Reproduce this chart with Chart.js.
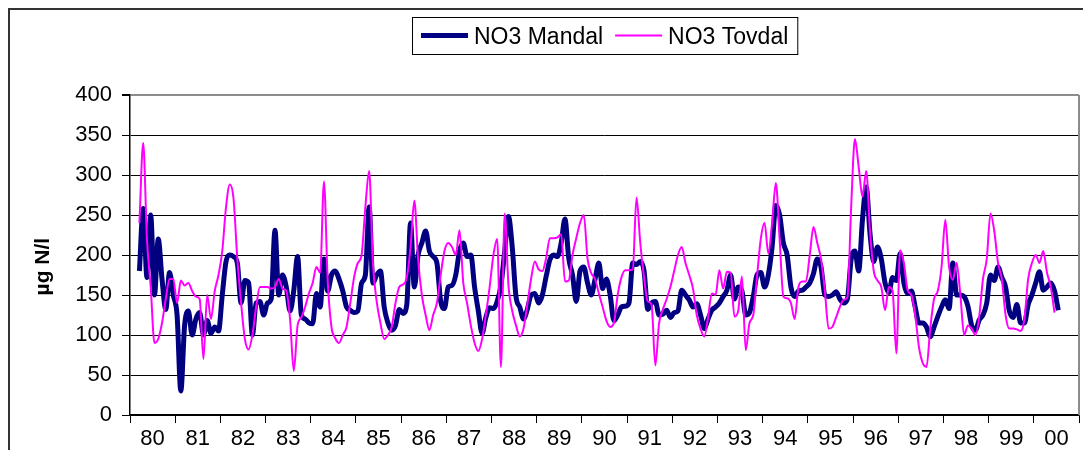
<!DOCTYPE html>
<html>
<head>
<meta charset="utf-8">
<script src="https://cdn.jsdelivr.net/npm/chart.js@4.4.1/dist/chart.umd.min.js"></script>
<style>
  html, body { margin: 0; padding: 0; background: #fff; }
  canvas { display: block; }
</style>
</head>
<body>
<canvas id="no3-chart" width="1083" height="450"></canvas>
<script>
// Year labels on the x axis (one category per year, 12 monthly values each)
var yearLabels = ['80', '81', '82', '83', '84', '85', '86', '87', '88', '89', '90',
                  '91', '92', '93', '94', '95', '96', '97', '98', '99', '00'];

// NO3, µg N/l, monthly - one row per year (jan..dec)
var mandal = [
  null, null, 180, 258, 172, 250, 150, 220, 170, 132, 178, 150,
  125, 30, 112, 130, 100, 120, 128, 100, 118, 102, 110, 105,
  150, 192, 200, 198, 190, 140, 168, 165, 100, 140, 142, 125,
  140, 145, 231, 150, 175, 160, 130, 156, 198, 125, 120, 115,
  114, 152, 135, 195, 155, 175, 180, 170, 155, 135, 131, 128,
  130, 165, 175, 260, 165, 175, 180, 135, 115, 106, 112, 132,
  127, 138, 240, 160, 200, 215, 230, 205, 198, 190, 142, 133,
  160, 162, 175, 205, 215, 198, 200, 160, 130, 102, 122, 134,
  133, 142, 162, 205, 248, 210, 148, 135, 120, 132, 150, 152,
  140, 150, 173, 194, 200, 198, 215, 245, 196, 175, 142, 180,
  185, 165, 150, 170, 190, 158, 170, 150, 118, 125, 135, 136,
  140, 190, 188, 192, 180, 132, 140, 142, 125, 126, 131, 122,
  128, 130, 156, 150, 144, 135, 139, 125, 108, 120, 131, 135,
  140, 148, 156, 175, 145, 160, 155, 125, 128, 148, 175, 178,
  160, 175, 210, 262, 250, 215, 200, 160, 148, 155, 156, 160,
  165, 177, 195, 185, 150, 148, 150, 154, 145, 140, 145, 195,
  205, 180, 244, 285, 227, 192, 210, 195, 165, 153, 172, 168,
  202, 165, 152, 155, 135, 115, 115, 110, 98, 110, 123, 135,
  144, 133, 190, 150, 150, 148, 136, 112, 106, 119, 125, 140,
  175, 168, 185, 172, 160, 130, 122, 138, 115, 115, 138, 150,
  165, 179, 156, 160, 165, 155, 131, null, null, null, null, null
];

var tovdal = [
  null, null, 240, 340, 220, 160, 90, 95, 115, 145, 170, 170,
  140, 168, 162, 165, 155, 148, 145, 70, 150, 120, 155, 175,
  205, 260, 288, 270, 195, 140, 95, 82, 100, 135, 160, 160,
  160, 158, 160, 170, 158, 155, 120, 55, 112, 122, 135, 152,
  165, 185, 178, 292, 168, 110, 96, 90, 100, 110, 140, 172,
  190, 200, 260, 305, 190, 142, 115, 95, 100, 110, 140, 160,
  163, 172, 210, 268, 195, 150, 125, 106, 125, 140, 175, 205,
  215, 210, 200, 231, 165, 140, 112, 90, 80, 95, 125, 160,
  200, 220, 60, 252, 162, 130, 112, 98, 108, 138, 170, 192,
  182, 180, 196, 221, 221, 222, 226, 167, 168, 200, 221, 240,
  250, 195, 177, 170, 152, 135, 118, 110, 115, 150, 172, 181,
  181, 182, 272, 215, 172, 142, 138, 62, 115, 132, 145, 160,
  180, 200, 210, 190, 175, 158, 125, 108, 98, 122, 152, 150,
  181, 158, 179, 178, 123, 130, 173, 81, 115, 125, 173, 220,
  240, 202, 240, 290, 220, 148, 146, 140, 120, 160, 167, 167,
  200, 235, 215, 195, 156, 108, 110, 122, 135, 144, 147, 260,
  345, 310, 273, 305, 230, 180, 168, 160, 131, 160, 155, 77,
  206, 190, 156, 150, 125, 85, 65, 60, 108, 145, 155, 185,
  244, 185, 169, 190, 150, 100, 112, 108, 100, 123, 170, 195,
  252, 230, 190, 170, 125, 108, 108, 107, 105, 120, 170, 190,
  200, 190, 205, 178, 160, 128, null, null, null, null, null, null
];

var yTicks = [0, 50, 100, 150, 200, 250, 300, 350, 400];

var FONT = "'Liberation Sans', Arial, sans-serif";

// month index -> point in the middle of that month
function toPoints(values) {
  return values.map(function (v, i) { return { x: i + 0.5, y: v }; });
}

// Frame of the plot, outer chart border and the boxed legend (Excel style)
var framePlugin = {
  id: 'frame',
  beforeDatasetsDraw: function (chart) {
    var ctx = chart.ctx, a = chart.chartArea;
    ctx.save();
    ctx.strokeStyle = '#8c8c8c';
    ctx.lineWidth = 2;
    ctx.beginPath();
    ctx.moveTo(a.right, a.top);
    ctx.lineTo(a.right, a.bottom);
    ctx.stroke();
    ctx.restore();
  },
  afterDraw: function (chart) {
    var ctx = chart.ctx, a = chart.chartArea;
    ctx.save();
    // outer chart border (top + left)
    ctx.strokeStyle = '#333';
    ctx.lineWidth = 2;
    ctx.beginPath();
    ctx.moveTo(9, chart.height);
    ctx.lineTo(9, 9);
    ctx.lineTo(chart.width, 9);
    ctx.stroke();

    // legend
    var sets = chart.data.datasets;
    ctx.font = '23px ' + FONT;
    var sample = 47, gap = 6, itemGap = 12, pad = 9;
    var total = pad * 2 + itemGap * (sets.length - 1);
    var widths = sets.map(function (d) { return ctx.measureText(d.label).width; });
    widths.forEach(function (w) { total += sample + gap + w; });
    var boxX = Math.round((a.left + a.right) / 2 - total / 2);
    var boxY = 17, boxH = 37;
    ctx.fillStyle = '#fff';
    ctx.fillRect(boxX, boxY, total, boxH);
    ctx.strokeStyle = '#000';
    ctx.lineWidth = 1;
    ctx.strokeRect(boxX + 0.5, boxY + 0.5, total, boxH);
    var x = boxX + pad, cy = boxY + boxH / 2;
    ctx.textBaseline = 'middle';
    sets.forEach(function (d, i) {
      ctx.strokeStyle = d.borderColor;
      ctx.lineWidth = d.borderWidth;
      ctx.beginPath();
      ctx.moveTo(x, cy);
      ctx.lineTo(x + sample, cy);
      ctx.stroke();
      x += sample + gap;
      ctx.fillStyle = '#000';
      ctx.fillText(d.label, x, cy + 2);
      x += widths[i] + itemGap;
    });
    ctx.restore();
  }
};

var config = {
  type: 'line',
  data: {
    datasets: [{
      label: 'NO3 Mandal',
      data: toPoints(mandal),
      borderColor: '#000080',
      borderWidth: 5,
      pointRadius: 0,
      cubicInterpolationMode: 'monotone',
      fill: false,
      order: 2
    }, {
      label: 'NO3 Tovdal',
      data: toPoints(tovdal),
      borderColor: '#ff00ff',
      borderWidth: 2,
      pointRadius: 0,
      cubicInterpolationMode: 'monotone',
      fill: false,
      order: 1
    }]
  },
  options: {
    responsive: false,
    animation: false,
    layout: { padding: { top: 95, right: 4, bottom: 0, left: 0 } },
    plugins: {
      legend: { display: false },
      tooltip: { enabled: false }
    },
    scales: {
      x: {
        type: 'linear',
        min: 0,
        max: yearLabels.length * 12,
        afterBuildTicks: function (scale) {
          // tick every half year: marks on year boundaries, labels mid-year
          var t = [];
          for (var v = 0; v <= yearLabels.length * 12; v += 6) t.push({ value: v });
          scale.ticks = t;
        },
        afterFit: function (scale) { scale.height = 35; },
        ticks: {
          autoSkip: false,
          maxRotation: 0,
          minRotation: 0,
          padding: 3,
          color: '#000',
          font: { family: FONT, size: 22 },
          callback: function (value) {
            return value % 12 === 6 ? yearLabels[(value - 6) / 12] : '';
          }
        },
        grid: {
          drawOnChartArea: false,
          tickLength: 8,
          color: function (c) {
            return c.tick && c.tick.value % 12 === 0 ? '#000' : 'rgba(0,0,0,0)';
          }
        },
        border: { display: true, color: '#000', width: 1.5 }
      },
      y: {
        min: 0,
        max: 400,
        afterBuildTicks: function (scale) {
          scale.ticks = yTicks.map(function (v) { return { value: v }; });
        },
        afterFit: function (scale) { scale.width = 130; },
        ticks: {
          padding: 10,
          color: '#000',
          font: { family: FONT, size: 22 }
        },
        grid: {
          tickLength: 8,
          tickColor: '#000',
          color: function (c) { return c.tick && c.tick.value === 400 ? '#8c8c8c' : '#000'; },
          lineWidth: function (c) { return c.tick && c.tick.value === 400 ? 2 : 1; }
        },
        border: { display: true, color: '#000', width: 1.5 },
        title: {
          display: true,
          text: 'µg N/l    ',
          color: '#000',
          font: { family: FONT, size: 21, weight: 'bold' },
          padding: { top: 31, bottom: 0 }
        }
      }
    }
  },
  plugins: [framePlugin]
};

var no3Chart = new Chart(document.getElementById('no3-chart'), config);
</script>
</body>
</html>
